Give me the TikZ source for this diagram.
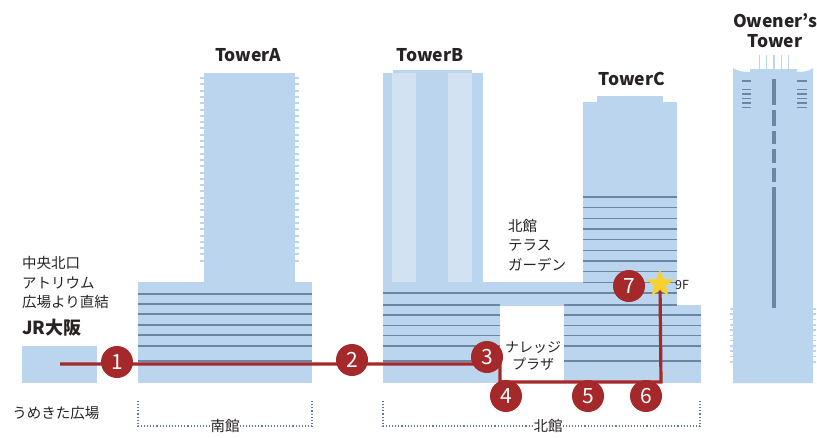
\documentclass[tikz,border=0pt]{standalone}
\usepackage{fontspec}
\setmainfont{Noto Sans CJK JP}
\usetikzlibrary{shapes.geometric}

\definecolor{bldg}{RGB}{188,213,238}
\definecolor{bldglight}{RGB}{211,226,242}
\definecolor{floorline}{RGB}{108,133,163}
\definecolor{routered}{RGB}{165,40,42}
\definecolor{staryellow}{RGB}{247,209,45}
\definecolor{labeltext}{RGB}{40,35,35}
\definecolor{bracketcol}{RGB}{95,120,160}

\tikzset{
  floor/.style={draw=floorline, line width=1.2},
  routeline/.style={draw=routered, line width=3.2},
  stop/.style={circle, fill=routered, minimum size=32, inner sep=0,
    text=white, font=\fontsize{21}{21}\selectfont},
  towerlabel/.style={text=labeltext, font=\bfseries\fontsize{17.5}{20}\selectfont, inner sep=0},
  jplabel/.style={text=labeltext, font=\fontsize{14.5}{19.5}\selectfont, inner sep=0},
  bracket/.style={draw=bracketcol, line width=1.1, dotted},
}

\begin{document}
\begin{tikzpicture}[x=1pt, y=-1pt]
\useasboundingbox (0,0) rectangle (817,437);

% ---- south building with Tower A ----
\fill[bldg] (138,282) rectangle (312,383);
\fill[bldg] (204,73) rectangle (295,283);
\foreach \y in {77,83.3,...,262} {
  \fill[bldg] (200,\y) rectangle (204,\y+2);
  \fill[bldg] (295,\y) rectangle (299,\y+2);
}
\foreach \y in {294,304,314,325,335,346,361}
  \draw[floor] (138,\y) -- (312,\y);

% ---- north building with Tower B and Tower C ----
\fill[bldg] (393,70) rectangle (472,73);
\fill[bldg] (383,73) rectangle (483,293);
\fill[bldglight] (392,73) rectangle (416,293);
\fill[bldglight] (448,73) rectangle (472,293);
\fill[bldg] (383,282) rectangle (583,306);
\fill[bldg] (383,306) rectangle (500,383);
\fill[bldg] (597,96) rectangle (663,102);
\fill[bldg] (583,102) rectangle (677,383);
\fill[bldg] (564,305) rectangle (701,383);

\foreach \y in {197,207.7,218.3,229,239.7,250.3,261,271.7,282.3}
  \draw[floor] (583,\y) -- (677,\y);
\draw[floor] (383,293) -- (677,293);
\draw[floor] (383,305) -- (500,305);
\draw[floor] (564,305) -- (677,305);
\foreach \y in {315,325.3,335.7,346,361} {
  \draw[floor] (383,\y) -- (500,\y);
  \draw[floor] (564,\y) -- (701,\y);
}

% ---- Owener's Tower ----
\foreach \x in {759.3,766.7,774,781.7,788.3}
  \draw[bldg, line width=1.2] (\x,55) -- (\x,70);
\fill[bldg] (733,383) -- (733,68) .. controls (737,71) and (742,72) .. (750,72)
  -- (750,69) -- (797,69) -- (797,72) .. controls (805,72) and (809,71) .. (813,68)
  -- (813,383) -- cycle;
\foreach \y in {81,89.5,94,98.5,103,107.5} {
  \fill[floorline] (742,\y-0.8) rectangle (751,\y+0.8);
  \fill[floorline] (797,\y-0.8) rectangle (806.5,\y+0.8);
}
\foreach \a/\b in {79/105,110/126,131/144,149/163,168/182,187/308}
  \fill[floorline] (771.5,\a) rectangle (776,\b);
\foreach \y in {308,313.3,...,362} {
  \fill[bldg] (730,\y) rectangle (733,\y+1.6);
  \fill[bldg] (813,\y) rectangle (816,\y+1.6);
}

% ---- JR Osaka block ----
\fill[bldg] (22,346) rectangle (97,383);

% ---- building brackets ----
\node[jplabel] (south) at (225,426) {南館};
\node[jplabel] (north) at (548,426) {北館};
\draw[bracket] (138,401) -- (138,426) -- (south.west);
\draw[bracket] (south.east) -- (312,426) -- (312,401);
\draw[bracket] (383,401) -- (383,426) -- (north.west);
\draw[bracket] (north.east) -- (700,426) -- (700,401);

% ---- labels ----
\node[towerlabel] (ta) at (248,55) {TowerA};
\node[towerlabel] (tb) at (430,55) {TowerB};
\node[towerlabel] (tc) at (632,79) {TowerC};
\node[towerlabel, align=center] (to) at (775,31) {Owener’s\\Tower};

\node[jplabel, anchor=west, align=left] (atrium) at (22,283) {中央北口\\アトリウム\\広場より直結};
\node[jplabel, anchor=west, font=\bfseries\fontsize{18}{20}\selectfont] (jr) at (22,328) {JR大阪};
\node[jplabel] (umekita) at (56,413) {うめきた広場};
\node[jplabel, anchor=west, align=left] (terrace) at (508,245) {北館\\テラス\\ガーデン};
\node[jplabel, align=center, font=\fontsize{14}{17}\selectfont] (knowledge) at (533,356) {ナレッジ\\プラザ};

% ---- route ----
\coordinate (start) at (60,364);
\coordinate (c1) at (500,364);
\coordinate (c2) at (500,382);
\coordinate (c3) at (661,382);
\coordinate (goal) at (660,284);
\draw[routeline] (start) -- (c1) -- (c2) -- (c3) -- (goal);
% five-pointed star at the goal (y axis points down, so -90 is up)
\fill[staryellow] (goal) +(-90:14.5)
  \foreach \a/\r in {-54/6,-18/14.5,18/6,54/14.5,90/6,126/14.5,162/6,198/14.5,234/6} { -- +(\a:\r) }
  -- cycle;
\node[text=labeltext, font=\fontsize{12.5}{14}\selectfont, anchor=west, inner sep=0] (floor9) at (675,285) {9F};

\node[stop] (s1) at (117,362) {1};
\node[stop] (s2) at (352,360) {2};
\node[stop] (s3) at (487,357) {3};
\node[stop] (s4) at (506,396) {4};
\node[stop] (s5) at (588,396) {5};
\node[stop] (s6) at (646,396) {6};
\node[stop] (s7) at (629,286) {7};
\end{tikzpicture}
\end{document}
